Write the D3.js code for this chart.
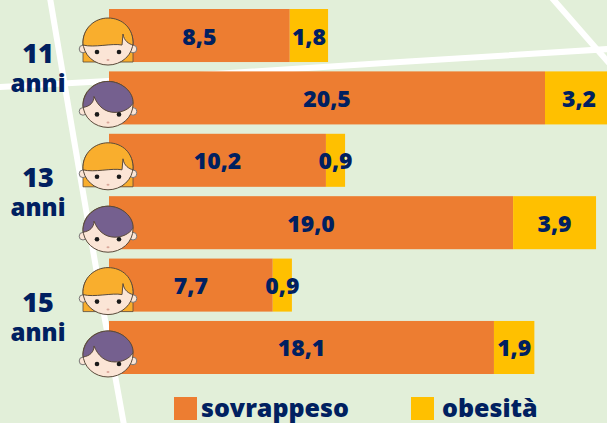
<!DOCTYPE html>
<html>
<head>
<meta charset="utf-8">
<script src="https://cdn.jsdelivr.net/npm/d3@7"></script>
<style>
	html, body {margin:0; padding:0; background:#E2EFD9; overflow:hidden;}
	text {font-family:"Open Sans", sans-serif; font-weight:800; fill:#002060;}
</style>
</head>
<body>
<div class="c_chart"></div>
<script>
/*DATA*/
const rows = ["f11","m11","f13","m13","f15","m15"];
const gender = ["f","m","f","m","f","m"];
const sovrappeso = [8.5,20.5,10.2,19.0,7.7,18.1];
const obesita = [1.8,3.2,0.9,3.9,0.9,1.9];
const ages = ["11","13","15"];
const legendLabels = ["sovrappeso","obesità"];

const fmt = d => d.toFixed(1).replace(".",",");

const width = 607;
const height = 423;

const orange = "#ED7D31";
const yellow = "#FFC000";
const green = "#E2EFD9";

let svg = d3.select(".c_chart")
	.append("svg")
	.attr("width",width)
	.attr("height",height)
	.style("display","block");

svg.append("rect")
	.attr("width",width)
	.attr("height",height)
	.attr("fill",green);

/*Background streets*/
const line = d3.line();
const streets = [
	[[50,-2],[74,140],[105,320],[124,425]],
	[[-2,87],[108,81],[400,62],[609,49]],
	[[552,-2],[609,63]]
];
svg.append("g")
	.selectAll("path")
	.data(streets)
	.enter()
	.append("path")
	.attr("d",line)
	.attr("fill","none")
	.attr("stroke","#fff")
	.attr("stroke-width",6);

/*SCALES*/
const x = d3.scaleLinear().domain([0,20.5]).range([109,545]);
const y = d3.scaleBand().domain(rows).range([9,374]).paddingInner(0.15);

/*BARS*/
const bars = svg.append("g");

bars.selectAll(".sov")
	.data(rows)
	.enter()
	.append("rect")
	.attr("class","sov")
	.attr("x",x(0))
	.attr("y",d => y(d))
	.attr("width",(d,i) => x(sovrappeso[i])-x(0))
	.attr("height",y.bandwidth())
	.attr("fill",orange);

bars.selectAll(".obe")
	.data(rows)
	.enter()
	.append("rect")
	.attr("class","obe")
	.attr("x",(d,i) => x(sovrappeso[i]))
	.attr("y",d => y(d))
	.attr("width",(d,i) => x(sovrappeso[i]+obesita[i])-x(sovrappeso[i]))
	.attr("height",y.bandwidth())
	.attr("fill",yellow);

/*FACES*/
const faces = svg.append("g")
	.selectAll("g")
	.data(rows)
	.enter()
	.append("g")
	.attr("transform",d => `translate(${x(0)-1},${y(d)+y.bandwidth()/2+6.5})`);

const ink = "#5a4a3a";

//girl hair behind the head
faces.filter((d,i) => gender[i]=="f")
	.append("path")
	.attr("d","M-25,2 L-25,20 L25,20 L25,2 Z")
	.attr("fill","#F9AE2D")
	.attr("stroke",ink)
	.attr("stroke-width",0.8);

//ears
faces.selectAll(".ear")
	.data([-25,25])
	.enter()
	.append("circle")
	.attr("cx",d => d)
	.attr("cy",7)
	.attr("r",3.8)
	.attr("fill","#FBE5D6")
	.attr("stroke","#777")
	.attr("stroke-width",1);

//head
faces.append("ellipse")
	.attr("cx",0)
	.attr("cy",0)
	.attr("rx",25)
	.attr("ry",23)
	.attr("fill","#FBE5D6")
	.attr("stroke",ink)
	.attr("stroke-width",1);

//hair
faces.append("path")
	.attr("d",function(){
		const i = rows.indexOf(d3.select(this.parentNode).datum());
		return gender[i]=="f"
			? "M-25,3 C-26,-14 -13,-24 0,-24 C14,-24 26,-14 25,3 C21,2 16,-1 15,-8 L14,3 C4,1 -14,6 -25,3 Z"
			: "M-25,3 C-26,-12 -13,-23 0,-23 C14,-23 26,-12 25,-1 C21,5 14,8 7,8 C-3,8 -10,2 -14,-8 C-14,-2 -18,2 -25,3 Z";
	})
	.attr("fill",function(){
		const i = rows.indexOf(d3.select(this.parentNode).datum());
		return gender[i]=="f" ? "#F9AE2D" : "#75608F";
	})
	.attr("stroke",ink)
	.attr("stroke-width",1);

//eyes
faces.selectAll(".eye")
	.data([-11,11])
	.enter()
	.append("circle")
	.attr("cx",d => d)
	.attr("cy",10)
	.attr("r",2.3)
	.attr("fill","#1a1a1a");

//nose
faces.append("ellipse")
	.attr("cx",0)
	.attr("cy",18)
	.attr("rx",1.5)
	.attr("ry",1)
	.attr("fill","#d9a79a");

/*VALUE LABELS*/
const labels = svg.append("g")
	.attr("font-size",23)
	.attr("text-anchor","middle");

labels.selectAll(".lsov")
	.data(rows)
	.enter()
	.append("text")
	.attr("class","lsov")
	.attr("x",(d,i) => x(sovrappeso[i]/2))
	.attr("y",d => y(d)+y.bandwidth()/2+9)
	.text((d,i) => fmt(sovrappeso[i]));

labels.selectAll(".lobe")
	.data(rows)
	.enter()
	.append("text")
	.attr("class","lobe")
	.attr("x",(d,i) => x(sovrappeso[i]+obesita[i]/2))
	.attr("y",d => y(d)+y.bandwidth()/2+9)
	.text((d,i) => fmt(obesita[i]));

/*AGE LABELS*/
const ageLabels = svg.append("g")
	.attr("text-anchor","middle")
	.selectAll("g")
	.data(ages)
	.enter()
	.append("g")
	.attr("transform",(d,i) => `translate(38,${y(rows[i*2+1])-4.7})`);

ageLabels.append("text")
	.attr("y",-4)
	.attr("font-size",27)
	.text(d => d);

ageLabels.append("text")
	.attr("y",25)
	.attr("font-size",24)
	.text("anni");

/*LEGEND*/
const legend = svg.append("g")
	.selectAll("g")
	.data(legendLabels)
	.enter()
	.append("g")
	.attr("transform",(d,i) => `translate(${[174,411][i]},397)`);

legend.append("rect")
	.attr("width",23)
	.attr("height",23)
	.attr("fill",(d,i) => [orange,yellow][i]);

legend.append("text")
	.attr("x",(d,i) => [27,31][i])
	.attr("y",20)
	.attr("font-size",25)
	.text(d => d);
</script>
</body>
</html>
